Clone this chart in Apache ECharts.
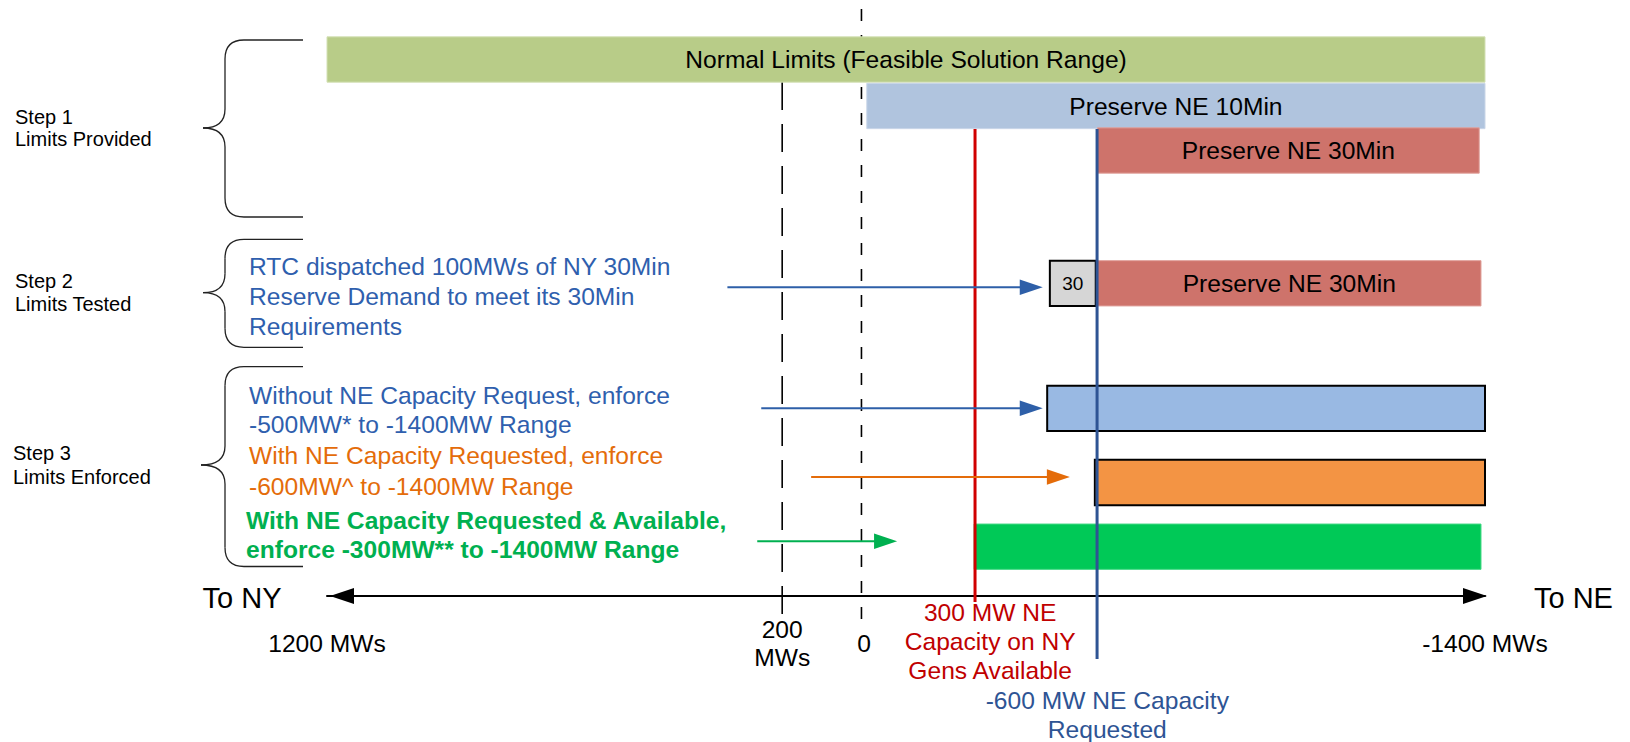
<!DOCTYPE html>
<html>
<head>
<meta charset="utf-8">
<title>NY - NE interface limits</title>
<script src="https://cdn.jsdelivr.net/npm/echarts@6.0.0/dist/echarts.min.js"></script>
<style>
  html, body { margin: 0; padding: 0; background: #fff; }
  #chart { width: 1630px; height: 742px; }
</style>
</head>
<body>
<div id="chart"></div>
<script>
// interface flow in MW (positive = to NY, negative = to NE)
const axisMin = -1400;
const axisMax = 1200;

// limit bands: label, from MW, to MW, row
const bandLabels = ['Normal Limits (Feasible Solution Range)', 'Preserve NE 10Min', 'Preserve NE 30Min',
  'Preserve NE 30Min', '30', '', '', ''];
const bandFrom = [1200, -12, -530, -530, -423, -417, -524, -253];
const bandTo = [-1400, -1400, -1387, -1391, -526, -1400, -1400, -1391];
const bandRow = [59.5, 106, 150.5, 283.3, 283.3, 408.3, 482.5, 546.7];

// dashed reference lines (200 MWs and 0)
const guideValues = [178, 0];
const guideTop = [82, 9];
const guideBottom = [617, 619];

// solid limit lines: 300 MW NE capacity available, -600 MW NE capacity requested
const limitValues = [-255, -529];
const limitTop = [129, 129];
const limitBottom = [602, 659];
const limitLabels = ['300 MW NE\nCapacity on NY\nGens Available', '-600 MW NE Capacity\nRequested'];
const limitLabelValues = [-289, -552];
const limitLabelRows = [641.7, 714.5];

// arrows from the notes to the bands
const arrowFrom = [301, 225, 113, 234];
const arrowTo = [-407, -407, -468, -80];
const arrowRow = [287.3, 408.3, 477, 541.3];

// labels under the axis
const tickLabels = ['1200 MWs', '200\nMWs', '0', '-1400 MWs'];
const tickValues = [1200, 178, -6, -1400];
const tickRow = 643.5;
const directionLabels = ['To NY', 'To NE'];
const directionValues = [1302, -1510];
const directionRow = 597.5;

// left column
const stepTitles = ['Step 1\nLimits Provided', 'Step 2\nLimits Tested', 'Step 3\nLimits Enforced'];
const testNote = 'RTC dispatched 100MWs of NY 30Min\nReserve Demand to meet its 30Min\nRequirements';
const enforceNotes = [
  'Without NE Capacity Request, enforce\n-500MW* to -1400MW Range',
  'With NE Capacity Requested, enforce\n-600MW^ to -1400MW Range',
  'With NE Capacity Requested & Available,\nenforce -300MW** to -1400MW Range'
];

const FONT = '"Liberation Sans", Arial, sans-serif';
const bandStyles = [
  { fill: '#b8cc88', stroke: '#d3e0b4', lw: 1, size: 24.6 },
  { fill: '#b0c4de', stroke: '#c9d6e8', lw: 1, size: 24.6 },
  { fill: '#ce736b', stroke: '#e0a19b', lw: 1, size: 24.6 },
  { fill: '#ce736b', stroke: '#e0a19b', lw: 1, size: 24.6 },
  { fill: '#d6d6d6', stroke: '#000', lw: 2, size: 19 },
  { fill: '#99b9e3', stroke: '#000', lw: 2, size: 24.6 },
  { fill: '#f39444', stroke: '#000', lw: 2, size: 24.6 },
  { fill: '#00c957', stroke: '#40d884', lw: 1, size: 24.6 }
];
const arrowColors = ['#2e5fa8', '#2e5fa8', '#e46c0a', '#00b050'];
const limitColors = ['#d00000', '#2e5494'];
const limitTextColors = ['#c00000', '#2e5494'];

function txt(x, y, text, size, color, align, weight, lh) {
  return {
    type: 'text', x: x, y: y,
    style: {
      text: text, fill: color, font: (weight || 'normal') + ' ' + size + 'px ' + FONT,
      align: align, textAlign: align, verticalAlign: 'middle', textVerticalAlign: 'middle',
      lineHeight: lh || size * 1.2
    }
  };
}

function bandItem(params, api) {
  const i = params.dataIndex;
  const a = api.coord([api.value(0), api.value(2)]);
  const b = api.coord([api.value(1), api.value(2)]);
  const h = 45.3;
  const st = bandStyles[i];
  return {
    type: 'group',
    children: [
      { type: 'rect', shape: { x: Math.min(a[0], b[0]), y: a[1] - h / 2, width: Math.abs(b[0] - a[0]), height: h },
        style: { fill: st.fill, stroke: st.stroke, lineWidth: st.lw } },
      txt((a[0] + b[0]) / 2, a[1], bandLabels[i], st.size, '#000', 'center')
    ]
  };
}

function guideItem(params, api) {
  const i = params.dataIndex;
  const a = api.coord([api.value(0), api.value(1)]);
  const b = api.coord([api.value(0), api.value(2)]);
  return {
    type: 'line', shape: { x1: a[0], y1: a[1], x2: b[0], y2: b[1] },
    style: { stroke: '#000', lineWidth: 1.6, lineDash: i === 0 ? [28, 14] : [12, 14] }
  };
}

function limitItem(params, api) {
  const i = params.dataIndex;
  const a = api.coord([api.value(0), api.value(1)]);
  const b = api.coord([api.value(0), api.value(2)]);
  return {
    type: 'line', shape: { x1: a[0], y1: a[1], x2: b[0], y2: b[1] },
    style: { stroke: limitColors[i], lineWidth: 3 }
  };
}

function arrowItem(params, api) {
  const i = params.dataIndex;
  const a = api.coord([api.value(0), api.value(2)]);
  const b = api.coord([api.value(1), api.value(2)]);
  const c = arrowColors[i];
  const head = 23, half = 7.8;
  return {
    type: 'group',
    children: [
      { type: 'line', shape: { x1: a[0], y1: a[1], x2: b[0] - head + 2, y2: b[1] }, style: { stroke: c, lineWidth: 2 } },
      { type: 'polygon', shape: { points: [[b[0], b[1]], [b[0] - head, b[1] - half], [b[0] - head, b[1] + half]] },
        style: { fill: c } }
    ]
  };
}

const labelData = [];
tickLabels.forEach(function (t, i) {
  labelData.push({ v: tickValues[i], row: tickRow, text: t, size: 24.6, color: '#000', align: 'center', lh: 28.4 });
});
directionLabels.forEach(function (t, i) {
  labelData.push({ v: directionValues[i], row: directionRow, text: t, size: 29, color: '#000', align: i === 0 ? 'right' : 'left' });
});
limitLabels.forEach(function (t, i) {
  labelData.push({ v: limitLabelValues[i], row: limitLabelRows[i], text: t, size: 24.6, color: limitTextColors[i], align: 'center', lh: 29 });
});

function labelItem(params, api) {
  const d = labelData[params.dataIndex];
  const p = api.coord([api.value(0), api.value(1)]);
  return txt(p[0], p[1], d.text, d.size, d.color, d.align, 'normal', d.lh);
}

// curly braces of the step column, built from lines and quadratic curves
function brace(top, tip, bottom, tipX) {
  const xr = 303, xv = 225, r = 19;
  const st = { stroke: '#222', fill: null, lineWidth: 1.3 };
  const parts = [
    { type: 'line', shape: { x1: xr, y1: top, x2: xv + r, y2: top } },
    { type: 'bezierCurve', shape: { x1: xv + r, y1: top, cpx1: xv, cpy1: top, x2: xv, y2: top + r } },
    { type: 'line', shape: { x1: xv, y1: top + r, x2: xv, y2: tip - r } },
    { type: 'bezierCurve', shape: { x1: xv, y1: tip - r, cpx1: xv, cpy1: tip, x2: tipX, y2: tip } },
    { type: 'bezierCurve', shape: { x1: tipX, y1: tip, cpx1: xv, cpy1: tip, x2: xv, y2: tip + r } },
    { type: 'line', shape: { x1: xv, y1: tip + r, x2: xv, y2: bottom - r } },
    { type: 'bezierCurve', shape: { x1: xv, y1: bottom - r, cpx1: xv, cpy1: bottom, x2: xv + r, y2: bottom } },
    { type: 'line', shape: { x1: xv + r, y1: bottom, x2: xr, y2: bottom } }
  ];
  parts.forEach(function (p) { p.style = st; });
  return parts;
}

const braces = [].concat(
  brace(40, 128, 217, 203),
  brace(239.3, 292.7, 347.3, 203),
  brace(366.7, 465, 566.5, 201)
);

const leftTexts = [
  txt(15, 128, stepTitles[0], 20, '#000', 'left', 'normal', 22.6),
  txt(15, 292.3, stepTitles[1], 20, '#000', 'left', 'normal', 23.3),
  txt(13, 464.7, stepTitles[2], 20, '#000', 'left', 'normal', 24),
  txt(249, 296.5, testNote, 24.6, '#2f5fae', 'left', 'normal', 29.7),
  txt(249, 409.7, enforceNotes[0], 24.6, '#2f5fae', 'left', 'normal', 29.3),
  txt(249, 471.3, enforceNotes[1], 24.6, '#e46c0a', 'left', 'normal', 30.7),
  txt(246, 534.7, enforceNotes[2], 24.6, '#00b050', 'left', 'bold', 29.3)
];

const chart = echarts.init(document.getElementById('chart'), null, { renderer: 'svg' });
chart.setOption({
  animation: false,
  backgroundColor: '#fff',
  grid: { left: 327, right: 145, top: 0, bottom: 146 },
  xAxis: {
    type: 'value', min: axisMin, max: axisMax, inverse: true,
    axisLine: {
      show: true, onZero: false, symbol: ['triangle', 'triangle'], symbolSize: [16, 24], symbolOffset: [15, -10],
      lineStyle: { color: '#000', width: 2 }
    },
    axisTick: { show: false }, axisLabel: { show: false }, splitLine: { show: false }
  },
  yAxis: { type: 'value', min: 0, max: 596, inverse: true, show: false },
  graphic: { elements: braces.concat(leftTexts) },
  series: [
    { type: 'custom', name: 'guides', z: 1, renderItem: guideItem, encode: { x: 0, y: [1, 2] },
      data: guideValues.map(function (v, i) { return [v, guideTop[i], guideBottom[i]]; }) },
    { type: 'custom', name: 'bands', z: 2, renderItem: bandItem, encode: { x: [0, 1], y: 2 },
      data: bandLabels.map(function (l, i) { return [bandFrom[i], bandTo[i], bandRow[i]]; }) },
    { type: 'custom', name: 'limits', z: 3, renderItem: limitItem, encode: { x: 0, y: [1, 2] },
      data: limitValues.map(function (v, i) { return [v, limitTop[i], limitBottom[i]]; }) },
    { type: 'custom', name: 'arrows', z: 3, renderItem: arrowItem, encode: { x: [0, 1], y: 2 },
      data: arrowFrom.map(function (v, i) { return [v, arrowTo[i], arrowRow[i]]; }) },
    { type: 'custom', name: 'labels', z: 4, renderItem: labelItem, encode: { x: 0, y: 1 },
      data: labelData.map(function (d) { return [d.v, d.row]; }) }
  ]
});
</script>
</body>
</html>
